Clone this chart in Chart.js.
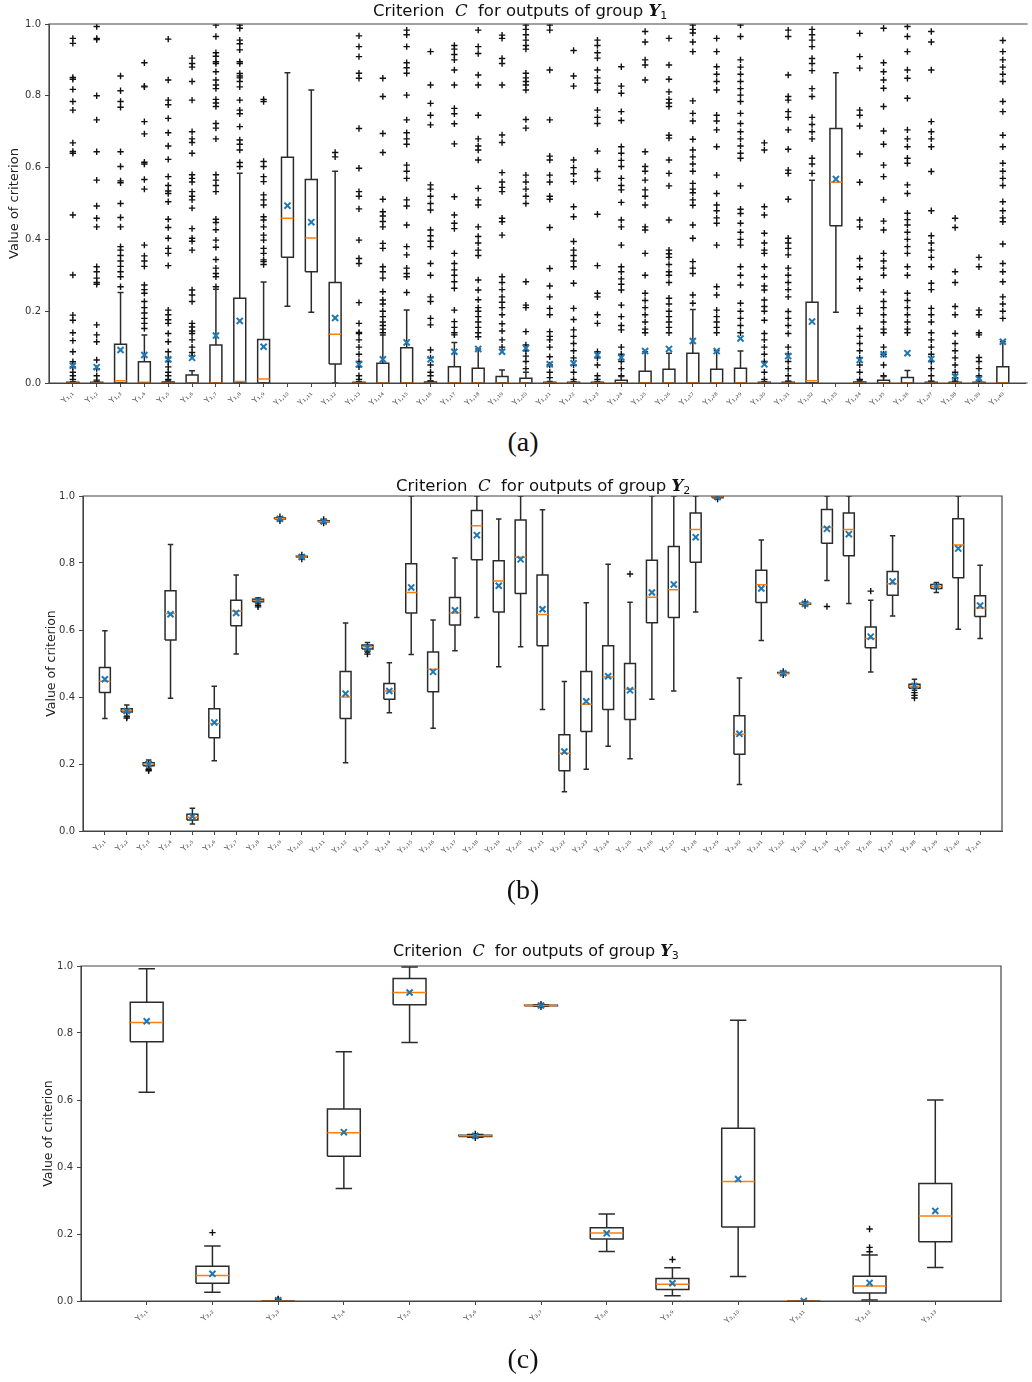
<!DOCTYPE html>
<html>
<head>
<meta charset="utf-8">
<script src="https://cdn.jsdelivr.net/npm/chart.js@4.4.0/dist/chart.umd.min.js"></script>
<style>
  body { margin: 0; background: #fff; }
  #page { position: relative; width: 1032px; height: 1382px; overflow: hidden; font-family: "DejaVu Sans", sans-serif; }
  canvas { position: absolute; left: 0; }
  .ttl { position: absolute; font-size: 16.5px; line-height: 17px; color: #111; white-space: nowrap; }
  .ttl .m { font-family: "DejaVu Serif", serif; font-style: italic; }
  .ttl sub { font-size: 11px; line-height: 0; vertical-align: -3px; }
  .cap { position: absolute; left: 473px; width: 100px; text-align: center; font-family: "Liberation Serif", serif; font-size: 28px; line-height: 30px; color: #111; }
</style>
</head>
<body>
<div id="page">
  <canvas id="chartA" width="1032" height="420" style="top:0"></canvas>
  <canvas id="chartB" width="1032" height="420" style="top:470px"></canvas>
  <canvas id="chartC" width="1032" height="420" style="top:930px"></canvas>

  <div class="ttl" style="left:373px;top:2px">Criterion&nbsp; <span class="m">C</span>&nbsp; for outputs of group <b class="m">Y</b><sub>1</sub></div>
  <div class="ttl" style="left:396px;top:477px">Criterion&nbsp; <span class="m">C</span>&nbsp; for outputs of group <b class="m">Y</b><sub>2</sub></div>
  <div class="ttl" style="left:393px;top:942px;font-size:16px">Criterion&nbsp; <span class="m">C</span>&nbsp; for outputs of group <b class="m">Y</b><sub>3</sub></div>

  <div class="cap" style="top:427px">(a)</div>
  <div class="cap" style="top:875px">(b)</div>
  <div class="cap" style="top:1344px">(c)</div>
</div>

<script>
// ---- group Y1 ----
const labelsA = ['Y₁,₁','Y₁,₂','Y₁,₃','Y₁,₄','Y₁,₅','Y₁,₆','Y₁,₇','Y₁,₈','Y₁,₉','Y₁,₁₀',
  'Y₁,₁₁','Y₁,₁₂','Y₁,₁₃','Y₁,₁₄','Y₁,₁₅','Y₁,₁₆','Y₁,₁₇','Y₁,₁₈','Y₁,₁₉','Y₁,₂₀',
  'Y₁,₂₁','Y₁,₂₂','Y₁,₂₃','Y₁,₂₄','Y₁,₂₅','Y₁,₂₆','Y₁,₂₇','Y₁,₂₈','Y₁,₂₉','Y₁,₃₀',
  'Y₁,₃₁','Y₁,₃₂','Y₁,₃₃','Y₁,₃₄','Y₁,₃₅','Y₁,₃₆','Y₁,₃₇','Y₁,₃₈','Y₁,₃₉','Y₁,₄₀'];
const q1A  = [0,0,0,0,0,0,0,0,0,0.35, 0.31,0.053,0,0,0,0,0,0,0,0, 0,0,0,0,0,0,0,0,0,0, 0,0,0.438,0,0,0,0,0,0,0];
const medA = [0,0,0.006,0.002,0,0,0.001,0.004,0.011,0.459, 0.404,0.136,0,0.001,0.001,0,0.001,0.001,0,0, 0,0,0,0,0.001,0.001,0.001,0.001,0.001,0, 0,0.006,0.559,0,0,0,0,0,0,0.001];
const q3A  = [0.002,0.002,0.108,0.059,0.003,0.022,0.106,0.236,0.121,0.629, 0.567,0.28,0.002,0.055,0.098,0.003,0.045,0.041,0.018,0.013,
  0.002,0.002,0.002,0.008,0.033,0.038,0.083,0.038,0.041,0.002, 0.002,0.225,0.709,0.003,0.008,0.015,0.002,0.002,0.002,0.045];
const loA  = [0,0,0,0,0,0,0,0,0,0.214, 0.197,0,0,0,0,0,0,0,0,0, 0,0,0,0,0,0,0,0,0,0, 0,0,0.197,0,0,0,0,0,0,0];
const hiA  = [0.004,0.004,0.252,0.134,0.006,0.034,0.261,0.584,0.281,0.864, 0.816,0.59,0.004,0.134,0.203,0.006,0.113,0.095,0.036,0.03,
  0.004,0.004,0.004,0.018,0.087,0.083,0.205,0.09,0.089,0.004, 0.004,0.565,0.864,0.006,0.018,0.035,0.004,0.004,0.004,0.115];
const meanA = [0.048,0.044,0.092,0.078,0.066,0.070,0.132,0.173,0.101,0.494, 0.448,0.181,0.052,0.066,0.113,0.066,0.087,0.095,0.087,0.097,
  0.052,0.055,0.078,0.071,0.089,0.095,0.117,0.089,0.124,0.052, 0.075,0.171,0.568,0.064,0.080,0.083,0.067,0.018,0.011,0.115];
const fliersA = [
  [0.96,0.946,0.851,0.846,0.818,0.784,0.76,0.669,0.645,0.64,0.468,0.301,0.189,0.175,0.14,0.118,0.087,0.059,0.045,0.03,0.02,0.01],
  [0.993,0.96,0.957,0.80,0.733,0.644,0.565,0.493,0.459,0.435,0.324,0.31,0.292,0.28,0.275,0.162,0.134,0.115,0.064,0.04,0.02,0.008],
  [0.855,0.814,0.784,0.768,0.644,0.603,0.563,0.558,0.50,0.461,0.435,0.38,0.37,0.355,0.34,0.325,0.31,0.296,0.268],
  [0.892,0.827,0.825,0.728,0.694,0.615,0.61,0.567,0.54,0.384,0.354,0.34,0.325,0.273,0.26,0.25,0.227,0.21,0.195,0.18,0.166,0.152],
  [0.958,0.844,0.788,0.775,0.737,0.697,0.66,0.623,0.575,0.55,0.535,0.528,0.505,0.456,0.433,0.403,0.375,0.361,0.327,0.203,0.19,0.176,0.166,0.138,0.115,0.087,0.07,0.06,0.045,0.03,0.02,0.01],
  [0.905,0.89,0.88,0.84,0.788,0.70,0.68,0.67,0.64,0.58,0.57,0.56,0.533,0.52,0.51,0.487,0.43,0.403,0.395,0.37,0.259,0.245,0.227,0.166,0.156,0.145,0.138,0.12,0.10,0.085,0.075],
  [0.997,0.965,0.92,0.91,0.895,0.89,0.867,0.844,0.83,0.82,0.79,0.78,0.77,0.723,0.71,0.68,0.58,0.565,0.55,0.533,0.456,0.447,0.427,0.398,0.378,0.344,0.32,0.305,0.296,0.268],
  [0.997,0.988,0.955,0.945,0.928,0.895,0.89,0.862,0.855,0.85,0.84,0.825,0.788,0.76,0.75,0.714,0.677,0.665,0.649,0.614,0.603],
  [0.79,0.784,0.617,0.603,0.575,0.561,0.524,0.51,0.496,0.463,0.454,0.435,0.412,0.398,0.375,0.361,0.343,0.338,0.33],
  [],
  [],
  [0.642,0.63],
  [0.967,0.937,0.909,0.863,0.849,0.709,0.598,0.533,0.52,0.485,0.398,0.347,0.333,0.224,0.166,0.141,0.138,0.12,0.10,0.08,0.06,0.045,0.02,0.01],
  [0.849,0.798,0.695,0.642,0.512,0.477,0.465,0.45,0.435,0.389,0.375,0.324,0.31,0.292,0.254,0.231,0.22,0.2,0.185,0.17,0.16,0.15,0.14],
  [0.983,0.97,0.937,0.892,0.878,0.863,0.802,0.733,0.697,0.68,0.665,0.607,0.59,0.57,0.51,0.493,0.44,0.38,0.357,0.32,0.305,0.296,0.252],
  [0.923,0.83,0.779,0.746,0.719,0.552,0.54,0.52,0.5,0.482,0.426,0.41,0.395,0.38,0.333,0.30,0.24,0.227,0.18,0.162,0.092,0.07,0.05,0.03,0.02,0.005],
  [0.94,0.93,0.915,0.9,0.872,0.83,0.765,0.75,0.722,0.666,0.519,0.468,0.445,0.43,0.361,0.333,0.315,0.3,0.282,0.264,0.203,0.171,0.155,0.14,0.134],
  [0.983,0.937,0.918,0.858,0.83,0.746,0.68,0.66,0.649,0.621,0.542,0.51,0.496,0.435,0.408,0.39,0.37,0.355,0.287,0.259,0.232,0.21,0.2,0.185,0.17,0.155,0.14,0.129],
  [0.969,0.96,0.904,0.89,0.83,0.691,0.67,0.586,0.56,0.545,0.533,0.459,0.449,0.412,0.296,0.28,0.26,0.24,0.225,0.21,0.19,0.165,0.145,0.12,0.1],
  [0.997,0.985,0.97,0.955,0.94,0.93,0.863,0.85,0.84,0.83,0.816,0.734,0.71,0.579,0.56,0.54,0.52,0.5,0.282,0.217,0.21,0.143,0.106,0.09,0.075,0.06,0.04],
  [0.997,0.983,0.872,0.733,0.632,0.621,0.579,0.56,0.52,0.512,0.433,0.319,0.27,0.24,0.208,0.19,0.143,0.13,0.12,0.1,0.073,0.05,0.03,0.015],
  [0.926,0.855,0.827,0.621,0.6,0.583,0.561,0.491,0.463,0.394,0.37,0.355,0.34,0.324,0.278,0.208,0.177,0.148,0.13,0.11,0.09,0.07,0.05,0.03,0.01],
  [0.955,0.94,0.92,0.905,0.872,0.85,0.835,0.816,0.76,0.74,0.723,0.646,0.589,0.57,0.47,0.327,0.25,0.24,0.19,0.166,0.087,0.07,0.05,0.02,0.01],
  [0.881,0.827,0.807,0.756,0.731,0.658,0.64,0.62,0.603,0.57,0.55,0.538,0.503,0.454,0.435,0.384,0.324,0.31,0.29,0.275,0.259,0.217,0.185,0.16,0.148,0.1,0.08,0.06,0.04,0.02],
  [0.979,0.95,0.9,0.886,0.844,0.644,0.603,0.59,0.565,0.538,0.52,0.496,0.435,0.426,0.361,0.3,0.25,0.23,0.21,0.19,0.17,0.15,0.14],
  [0.96,0.886,0.846,0.811,0.79,0.78,0.77,0.69,0.682,0.621,0.584,0.549,0.454,0.37,0.36,0.35,0.33,0.31,0.3,0.28,0.236,0.22,0.2,0.185,0.17,0.155,0.14],
  [0.997,0.985,0.975,0.95,0.923,0.786,0.751,0.73,0.679,0.649,0.63,0.61,0.59,0.556,0.54,0.53,0.51,0.495,0.44,0.403,0.338,0.32,0.305,0.245,0.222],
  [0.96,0.923,0.881,0.86,0.84,0.816,0.746,0.73,0.705,0.658,0.579,0.528,0.496,0.48,0.46,0.445,0.384,0.268,0.245,0.203,0.185,0.17,0.155,0.14],
  [0.997,0.965,0.9,0.88,0.86,0.84,0.82,0.802,0.784,0.751,0.723,0.7,0.68,0.66,0.64,0.626,0.549,0.484,0.472,0.445,0.42,0.4,0.384,0.324,0.3,0.273,0.222,0.2,0.18,0.16,0.14],
  [0.669,0.649,0.491,0.468,0.417,0.39,0.37,0.361,0.324,0.296,0.27,0.259,0.231,0.213,0.2,0.175,0.138,0.12,0.1,0.08,0.06,0.03,0.01],
  [0.983,0.965,0.858,0.798,0.788,0.756,0.74,0.705,0.651,0.593,0.584,0.512,0.403,0.39,0.375,0.357,0.32,0.3,0.28,0.26,0.24,0.199,0.18,0.16,0.138,0.1,0.08,0.06,0.04,0.02,0.005],
  [0.985,0.97,0.955,0.937,0.904,0.89,0.87,0.82,0.798,0.74,0.72,0.7,0.68,0.626,0.61,0.584],
  [],
  [0.974,0.909,0.877,0.76,0.746,0.716,0.638,0.559,0.454,0.435,0.347,0.324,0.289,0.264,0.208,0.194,0.152,0.13,0.11,0.09,0.07,0.05,0.03,0.01],
  [0.988,0.892,0.867,0.844,0.821,0.77,0.702,0.665,0.607,0.575,0.51,0.451,0.426,0.361,0.34,0.32,0.3,0.253,0.227,0.21,0.19,0.17,0.15,0.14,0.1,0.08,0.05,0.02],
  [0.993,0.965,0.923,0.872,0.849,0.793,0.705,0.68,0.658,0.626,0.612,0.552,0.528,0.473,0.455,0.44,0.42,0.4,0.38,0.361,0.324,0.3,0.25,0.23,0.21,0.19,0.17,0.15,0.14],
  [0.979,0.95,0.872,0.728,0.7,0.68,0.658,0.589,0.48,0.41,0.39,0.37,0.35,0.324,0.278,0.26,0.208,0.19,0.17,0.14,0.12,0.1,0.08,0.06,0.04,0.02,0.005],
  [0.459,0.433,0.31,0.28,0.213,0.19,0.138,0.11,0.09,0.07,0.05,0.03,0.015,0.005],
  [0.35,0.324,0.203,0.19,0.14,0.134,0.071,0.06,0.04,0.02,0.008],
  [0.954,0.923,0.9,0.88,0.86,0.84,0.784,0.756,0.69,0.658,0.612,0.59,0.57,0.55,0.505,0.48,0.46,0.449,0.387,0.333,0.31,0.282,0.24,0.22,0.2,0.18]
];

// ---- group Y2 ----
const labelsB = ['Y₂,₁','Y₂,₂','Y₂,₃','Y₂,₄','Y₂,₅','Y₂,₆','Y₂,₇','Y₂,₈','Y₂,₉','Y₂,₁₀',
  'Y₂,₁₁','Y₂,₁₂','Y₂,₁₃','Y₂,₁₄','Y₂,₁₅','Y₂,₁₆','Y₂,₁₇','Y₂,₁₈','Y₂,₁₉','Y₂,₂₀',
  'Y₂,₂₁','Y₂,₂₂','Y₂,₂₃','Y₂,₂₄','Y₂,₂₅','Y₂,₂₆','Y₂,₂₇','Y₂,₂₈','Y₂,₂₉','Y₂,₃₀',
  'Y₂,₃₁','Y₂,₃₂','Y₂,₃₃','Y₂,₃₄','Y₂,₃₅','Y₂,₃₆','Y₂,₃₇','Y₂,₃₈','Y₂,₃₉','Y₂,₄₀','Y₂,₄₁'];
const q1B  = [0.4135,0.355,0.195,0.57,0.033,0.278,0.613,0.684,0.931,0.817, 0.923,0.336,0.543,0.393,0.651,0.416,0.615,0.81,0.654,0.709,
  0.553,0.18,0.297,0.363,0.333,0.622,0.637,0.802,0.995,0.229, 0.682,0.470,0.677,0.859,0.822,0.547,0.704,0.426,0.724,0.756,0.64];
const medB = [0.447,0.36,0.2,0.649,0.041,0.321,0.656,0.688,0.932,0.818, 0.924,0.40,0.55,0.418,0.712,0.483,0.651,0.911,0.746,0.817,
  0.646,0.232,0.378,0.46,0.423,0.698,0.72,0.90,0.998,0.289, 0.735,0.471,0.678,0.906,0.90,0.575,0.738,0.432,0.73,0.854,0.666];
const q3B  = [0.488,0.365,0.204,0.717,0.05,0.365,0.689,0.692,0.934,0.82, 0.926,0.476,0.555,0.44,0.798,0.534,0.697,0.957,0.807,0.928,
  0.764,0.287,0.476,0.553,0.5,0.808,0.849,0.949,1.0,0.344, 0.778,0.473,0.680,0.96,0.949,0.609,0.775,0.438,0.736,0.932,0.702];
const loB  = [0.336,0.343,0.187,0.396,0.021,0.21,0.528,0.679,0.929,0.815, 0.921,0.204,0.533,0.353,0.527,0.307,0.538,0.637,0.49,0.55,
  0.363,0.117,0.184,0.253,0.216,0.393,0.418,0.654,0.993,0.139, 0.569,0.468,0.675,0.748,0.679,0.475,0.642,0.42,0.712,0.602,0.575];
const hiB  = [0.598,0.376,0.212,0.855,0.068,0.432,0.764,0.696,0.936,0.822, 0.928,0.621,0.563,0.502,1.0,0.63,0.815,1.0,0.931,1.0,
  0.959,0.446,0.681,0.796,0.683,1.0,1.0,1.0,1.0,0.457, 0.869,0.474,0.682,1.0,1.0,0.689,0.881,0.453,0.742,1.0,0.793];
const meanB = [0.453,0.358,0.2,0.647,0.043,0.324,0.651,0.688,0.932,0.818, 0.924,0.41,0.548,0.418,0.727,0.475,0.659,0.883,0.732,0.811,
  0.662,0.237,0.387,0.462,0.42,0.712,0.736,0.877,0.997,0.29, 0.724,0.471,0.678,0.902,0.886,0.58,0.745,0.433,0.73,0.843,0.673];
const fliersB = [[],[0.337,0.341],[0.18,0.184],[],[],[],[],[0.674,0.669],[0.926,0.938],[0.812,0.824],
  [0.919,0.93],[],[0.528,0.537],[],[],[],[],[],[],[],
  [],[],[],[],[0.767],[],[],[],[0.991],[],
  [],[0.466,0.476],[0.673,0.684],[0.67],[],[0.716],[],[0.413,0.405,0.397],[],[],[]];

// ---- group Y3 ----
const labelsC = ['Y₃,₁','Y₃,₂','Y₃,₃','Y₃,₄','Y₃,₅','Y₃,₆','Y₃,₇','Y₃,₈','Y₃,₉','Y₃,₁₀','Y₃,₁₁','Y₃,₁₂','Y₃,₁₃'];
const q1C  = [0.774,0.053,0,0.432,0.884,0.491,0.881,0.185,0.034,0.221,0,0.024,0.177];
const medC = [0.831,0.076,0,0.502,0.921,0.493,0.882,0.203,0.05,0.357,0,0.045,0.254];
const q3C  = [0.892,0.104,0,0.573,0.963,0.495,0.883,0.219,0.067,0.516,0,0.074,0.351];
const loC  = [0.623,0.026,0,0.336,0.772,0.489,0.880,0.148,0.016,0.073,0,0.003,0.1];
const hiC  = [0.992,0.164,0,0.744,0.997,0.497,0.884,0.26,0.099,0.838,0,0.137,0.6];
const meanC = [0.835,0.081,0.002,0.504,0.921,0.493,0.882,0.202,0.053,0.364,0,0.054,0.269];
const fliersC = [[],[0.204],[0.004,0.006],[],[],[0.487,0.499],[0.878,0.886],[],[0.124],[],[],[0.215,0.16,0.147],[]];

const BLUE = '#1f77b4', ORANGE = '#ff7f0e', INK = '#2b2b2b';

// turn box statistics into line / scatter datasets on linear x positions 1..n
function boxDatasets(q1, med, q3, lo, hi, mean, fliers) {
  const box = [], whisk = [], medl = [], means = [], pts = [];
  const gap = x => ({ x: x, y: null });
  q1.forEach((_, k) => {
    const x = k + 1, w = 0.25, c = 0.125;
    box.push({x: x - w, y: q1[k]}, {x: x + w, y: q1[k]}, {x: x + w, y: q3[k]}, {x: x - w, y: q3[k]}, {x: x - w, y: q1[k]}, gap(x));
    whisk.push({x: x, y: lo[k]}, {x: x, y: q1[k]}, gap(x), {x: x, y: q3[k]}, {x: x, y: hi[k]}, gap(x),
      {x: x - c, y: lo[k]}, {x: x + c, y: lo[k]}, gap(x), {x: x - c, y: hi[k]}, {x: x + c, y: hi[k]}, gap(x));
    medl.push({x: x - w, y: med[k]}, {x: x + w, y: med[k]}, gap(x));
    means.push({x: x, y: mean[k]});
    fliers[k].forEach(v => pts.push({x: x, y: v}));
  });
  const lineDs = (data, color) => ({ data: data, showLine: true, borderColor: color, borderWidth: 1.5, pointRadius: 0, fill: false, spanGaps: false });
  return [
    { data: means, pointStyle: 'crossRot', pointRadius: 4.3, pointBorderColor: BLUE, pointBorderWidth: 2, pointBackgroundColor: BLUE },
    lineDs(medl, ORANGE),
    lineDs(box, INK),
    lineDs(whisk, INK),
    { data: pts, pointStyle: 'cross', pointRadius: 3.2, pointBorderColor: '#111', pointBorderWidth: 1.4 }
  ];
}

// axes frame drawn over the data, like matplotlib spines
const framePlugin = {
  id: 'frame',
  afterDatasetsDraw(chart, args, opts) {
    const { ctx, chartArea: a } = chart;
    ctx.save();
    ctx.strokeStyle = '#444';
    ctx.lineWidth = 1.2;
    ctx.beginPath();
    if (opts.right !== false) {
      ctx.rect(a.left, a.top, a.right - a.left, a.bottom - a.top);
    } else {
      ctx.moveTo(a.right + 2, a.bottom);
      ctx.lineTo(a.left, a.bottom);
      ctx.lineTo(a.left, a.top);
      ctx.lineTo(a.right + 2, a.top);
    }
    ctx.stroke();
    ctx.restore();
  }
};

function makeChart(id, labels, datasets, o) {
  return new Chart(document.getElementById(id), {
    type: 'scatter',
    data: { datasets: datasets },
    plugins: [framePlugin],
    options: {
      responsive: false,
      animation: false,
      events: [],
      layout: { padding: { top: o.top, left: o.left, right: o.right, bottom: 0 } },
      plugins: { legend: { display: false }, tooltip: { enabled: false }, frame: { right: o.rightSpine } },
      scales: {
        x: {
          type: 'linear', min: 0, max: o.xMax,
          afterBuildTicks: s => { s.ticks = labels.map((_, i) => ({ value: i + 1 })); },
          afterFit: s => { s.height = o.xHeight; s.paddingLeft = 0; s.paddingRight = 0; },
          ticks: {
            autoSkip: false, minRotation: 45, maxRotation: 45, padding: 2,
            font: { family: 'DejaVu Sans', size: 8 }, color: '#555',
            callback: v => labels[v - 1] || ''
          },
          grid: { drawOnChartArea: false, drawTicks: true, tickLength: 4, color: '#444' },
          border: { color: '#444' }
        },
        y: {
          type: 'linear', min: 0, max: 1,
          afterFit: s => { s.width = o.yWidth; s.paddingTop = 0; s.paddingBottom = 0; },
          ticks: { stepSize: 0.2, padding: 4, font: { family: 'DejaVu Sans', size: 10 }, color: '#333', callback: v => v.toFixed(1) },
          grid: { drawOnChartArea: false, drawTicks: true, tickLength: 4, color: '#444' },
          border: { color: '#444' },
          title: { display: true, text: 'Value of criterion', color: '#222', padding: { top: 0, bottom: 0 },
            font: { family: 'DejaVu Sans', size: o.yTitle } }
        }
      }
    }
  });
}

makeChart('chartA', labelsA, boxDatasets(q1A, medA, q3A, loA, hiA, meanA, fliersA),
  { top: 24, left: 7, right: 0, yWidth: 42, xHeight: 37, xMax: 40.96, yTitle: 13, rightSpine: false });
makeChart('chartB', labelsB, boxDatasets(q1B, medB, q3B, loB, hiB, meanB, fliersB),
  { top: 26, left: 44, right: 30, yWidth: 39, xHeight: 59, xMax: 42, yTitle: 12.5, rightSpine: true });
makeChart('chartC', labelsC, boxDatasets(q1C, medC, q3C, loC, hiC, meanC, fliersC),
  { top: 36, left: 41, right: 31, yWidth: 40, xHeight: 49, xMax: 14, yTitle: 12.5, rightSpine: true });
</script>
</body>
</html>
